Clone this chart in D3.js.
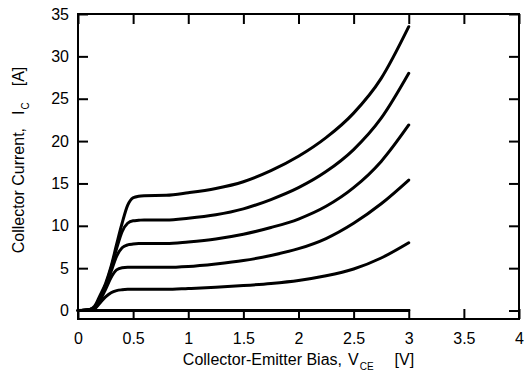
<!DOCTYPE html>
<html>
<head>
<meta charset="utf-8">
<script src="https://cdn.jsdelivr.net/npm/d3@7"></script>
<style>
    body { margin: 0; background: #fff; }
    text { font-family: "Liberation Sans", Arial, sans-serif; fill: #000; }
</style>
</head>
<body>
<div id="my_dataviz"></div>
<script>
// Collector-emitter bias sample points [V]
const vce = [0, 0.1, 0.15, 0.2, 0.25, 0.3, 0.35, 0.4, 0.45, 0.5, 0.55, 0.6, 0.8, 1.0, 1.25, 1.5, 1.75, 2.0, 2.25, 2.5, 2.75, 3.0];

// Collector current for each curve [A]
const icZero = [0, 0, 0, 0, 0, 0, 0, 0, 0, 0, 0, 0, 0, 0, 0, 0, 0, 0, 0, 0, 0, 0];
const icCurve1 = [0, 0.05, 0.2, 0.9, 1.6, 2.1, 2.35, 2.45, 2.5, 2.5, 2.5, 2.5, 2.5, 2.6, 2.75, 2.95, 3.2, 3.55, 4.1, 4.9, 6.2, 8.0];
const icCurve2 = [0, 0.1, 0.25, 1.2, 2.5, 3.9, 4.8, 5.05, 5.1, 5.1, 5.1, 5.1, 5.1, 5.2, 5.5, 5.9, 6.5, 7.3, 8.5, 10.3, 12.6, 15.4];
const icCurve3 = [0, 0.1, 0.3, 1.4, 2.8, 4.6, 6.4, 7.4, 7.75, 7.85, 7.9, 7.9, 7.9, 8.1, 8.45, 9.0, 9.8, 10.8, 12.3, 14.5, 17.6, 21.9];
const icCurve4 = [0, 0.1, 0.4, 1.6, 3.0, 5.0, 7.3, 9.3, 10.3, 10.6, 10.65, 10.7, 10.7, 10.9, 11.3, 12.0, 13.1, 14.5, 16.4, 19.0, 22.7, 28.0];
const icCurve5 = [0, 0.1, 0.5, 1.8, 3.2, 5.2, 7.8, 10.3, 12.4, 13.3, 13.5, 13.55, 13.6, 13.9, 14.4, 15.2, 16.5, 18.2, 20.4, 23.3, 27.4, 33.5];

// Axis ticks
const xTicks = [0, 0.5, 1, 1.5, 2, 2.5, 3, 3.5, 4];
const yTicks = [0, 5, 10, 15, 20, 25, 30, 35];

// Chart size and margins
const margin = { top: 14, right: 5, bottom: 58, left: 78 };
const width = 524 - margin.left - margin.right;
const height = 377 - margin.top - margin.bottom;
const tickLen = 10;

const svg = d3.select("#my_dataviz")
    .append("svg")
    .attr("width", 524)
    .attr("height", 377)
    .append("g")
    .attr("transform", `translate(${margin.left}, ${margin.top})`);

// Scales
const xScale = d3.scaleLinear().domain([0, 4]).range([0, width]);
const yScale = d3.scaleLinear().domain([-1, 35]).range([height, 0]);

// Curves
const series = [icZero, icCurve1, icCurve2, icCurve3, icCurve4, icCurve5];
const line = d3.line()
    .x((d, i) => xScale(vce[i]))
    .y(d => yScale(d))
    .curve(d3.curveMonotoneX);

svg.append("g")
    .selectAll("path")
    .data(series)
    .enter()
    .append("path")
    .attr("d", line)
    .attr("fill", "none")
    .attr("stroke", "#000")
    .attr("stroke-width", 3)
    .attr("stroke-linecap", "round");

// Axes with inward ticks on all four sides
function styleAxis(g) {
    g.select(".domain").remove();
    g.selectAll(".tick line").attr("stroke", "#000").attr("stroke-width", 2);
    g.selectAll(".tick text").style("font-size", "16px");
}

svg.append("g")
    .attr("transform", `translate(0, ${height})`)
    .call(d3.axisBottom(xScale).tickValues(xTicks).tickSize(-tickLen).tickPadding(14).tickFormat(d3.format("")))
    .call(styleAxis);

svg.append("g")
    .call(d3.axisTop(xScale).tickValues(xTicks).tickSize(-tickLen).tickFormat(""))
    .call(styleAxis);

svg.append("g")
    .call(d3.axisLeft(yScale).tickValues(yTicks).tickSize(-tickLen).tickPadding(9))
    .call(styleAxis);

svg.append("g")
    .attr("transform", `translate(${width}, 0)`)
    .call(d3.axisRight(yScale).tickValues(yTicks).tickSize(-tickLen).tickFormat(""))
    .call(styleAxis);

// Plot frame
svg.append("rect")
    .attr("width", width)
    .attr("height", height)
    .attr("fill", "none")
    .attr("stroke", "#000")
    .attr("stroke-width", 2);

// X axis label
const xLabel = svg.append("text")
    .attr("x", width / 2)
    .attr("y", height + 46)
    .attr("text-anchor", "middle")
    .style("font-size", "16px");
xLabel.append("tspan").text("Collector-Emitter Bias,");
xLabel.append("tspan").attr("dx", 6).text("V");
xLabel.append("tspan").attr("dy", 5).attr("dx", 1).style("font-size", "10px").text("CE");
xLabel.append("tspan").attr("dy", -5).attr("dx", 21).text("[V]");

// Y axis label
const yLabel = svg.append("text")
    .attr("transform", "rotate(-90)")
    .attr("x", -146)
    .attr("y", -54)
    .attr("text-anchor", "middle")
    .style("font-size", "16px");
yLabel.append("tspan").text("Collector Current,");
yLabel.append("tspan").attr("dx", 13).text("I");
yLabel.append("tspan").attr("dy", 5).attr("dx", 1).style("font-size", "10px").text("C");
yLabel.append("tspan").attr("dy", -5).attr("dx", 16).text("[A]");
</script>
</body>
</html>
